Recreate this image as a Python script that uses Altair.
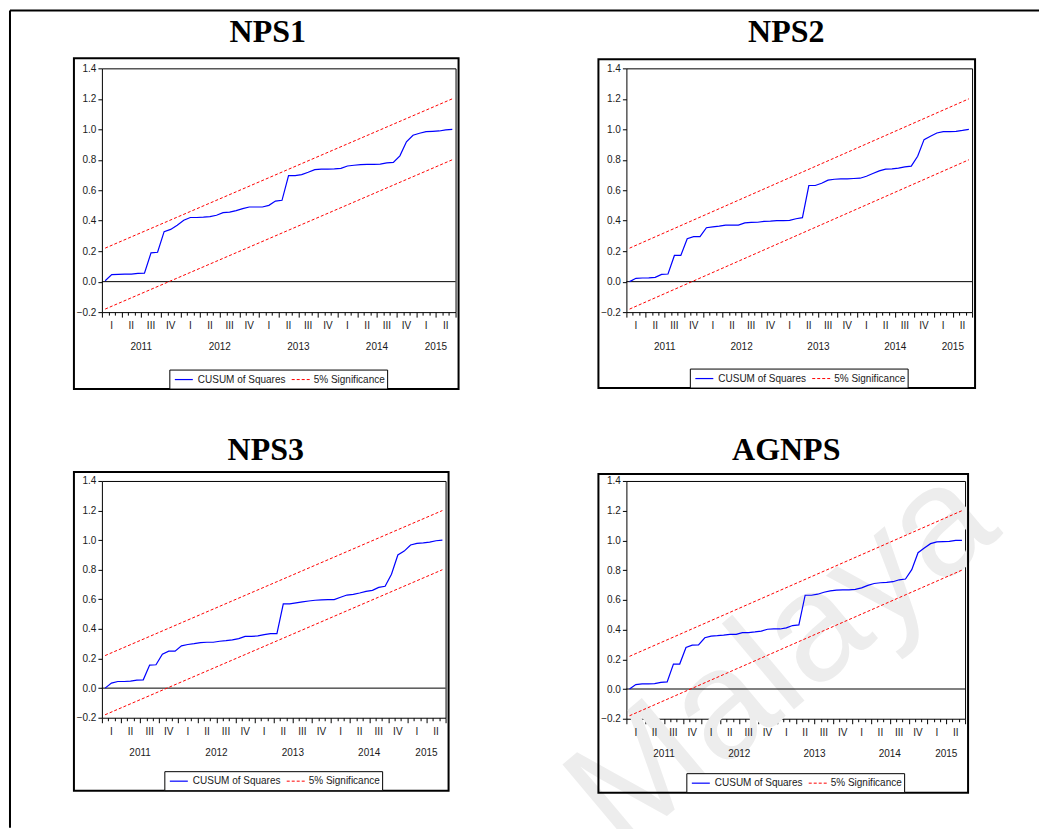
import altair as alt
import pandas as pd

# CUSUM of squares statistics, one value per month (Jan 2011 .. Jun 2015)
PANEL_NAMES = ["NPS1", "NPS2", "NPS3", "AGNPS"]

nps1 = [0.006, 0.046, 0.048, 0.050, 0.050, 0.054, 0.056, 0.189, 0.193, 0.328,
        0.343, 0.370, 0.403, 0.421, 0.421, 0.423, 0.427, 0.436, 0.453, 0.456,
        0.466, 0.479, 0.490, 0.490, 0.490, 0.501, 0.529, 0.534, 0.696, 0.696,
        0.703, 0.718, 0.735, 0.738, 0.738, 0.740, 0.744, 0.759, 0.764, 0.768,
        0.770, 0.770, 0.772, 0.779, 0.783, 0.826, 0.918, 0.961, 0.974, 0.985,
        0.987, 0.989, 0.996, 1.000]
nps2 = [0.000, 0.022, 0.024, 0.025, 0.028, 0.048, 0.050, 0.172, 0.172, 0.282,
        0.295, 0.295, 0.354, 0.360, 0.365, 0.371, 0.371, 0.371, 0.386, 0.389,
        0.390, 0.395, 0.397, 0.400, 0.400, 0.402, 0.413, 0.420, 0.631, 0.631,
        0.646, 0.666, 0.672, 0.675, 0.675, 0.677, 0.679, 0.692, 0.710, 0.727,
        0.738, 0.740, 0.745, 0.753, 0.758, 0.823, 0.932, 0.954, 0.976, 0.985,
        0.985, 0.987, 0.993, 1.000]
nps3 = [0.000, 0.034, 0.045, 0.045, 0.047, 0.054, 0.056, 0.156, 0.158, 0.230,
        0.250, 0.250, 0.286, 0.295, 0.301, 0.308, 0.310, 0.310, 0.317, 0.321,
        0.326, 0.335, 0.350, 0.350, 0.353, 0.362, 0.368, 0.368, 0.569, 0.569,
        0.576, 0.583, 0.589, 0.594, 0.596, 0.598, 0.598, 0.614, 0.629, 0.634,
        0.643, 0.654, 0.661, 0.681, 0.688, 0.770, 0.900, 0.926, 0.967, 0.978,
        0.982, 0.987, 0.996, 1.000]
agnps = [0.000, 0.030, 0.034, 0.034, 0.036, 0.045, 0.048, 0.168, 0.168, 0.279,
         0.295, 0.297, 0.345, 0.356, 0.359, 0.363, 0.368, 0.368, 0.379, 0.379,
         0.384, 0.390, 0.402, 0.404, 0.404, 0.411, 0.427, 0.431, 0.631, 0.631,
         0.638, 0.651, 0.660, 0.665, 0.667, 0.667, 0.670, 0.681, 0.697, 0.710,
         0.715, 0.717, 0.722, 0.735, 0.740, 0.803, 0.917, 0.949, 0.978, 0.990,
         0.992, 0.994, 1.000, 1.000]

# month positions on the time axis (centre of each month)
MONTH_POS = [m + 0.5 for m in range(54)]

# 5% significance bounds: straight lines between first and last observation
SIG_POS = [0.5, 53.5]
SIG_UPPER = [0.22, 1.20]
SIG_LOWER = [-0.18, 0.80]

# axis labelling
Y_TICKS = [-0.2, 0.0, 0.2, 0.4, 0.6, 0.8, 1.0, 1.2, 1.4]
MONTH_TICKS = list(range(55))
QUARTER_POS = [1.5 + 3 * q for q in range(18)]
QUARTER_LABELS = ["I", "II", "III", "IV"] * 4 + ["I", "II"]
YEAR_POS = [6, 18, 30, 42, 51]
YEAR_LABELS = ["2011", "2012", "2013", "2014", "2015"]

LEGEND_LABELS = ["CUSUM of Squares", "5% Significance"]

SANS = "Liberation Sans"
SERIF = "Liberation Serif"
BLUE = "#0000ff"
RED = "#ff0000"

x_scale = alt.Scale(domain=[0, 54], nice=False, zero=False)
y_scale = alt.Scale(domain=[-0.2, 1.4], nice=False, zero=False)

x_axis = alt.Axis(values=MONTH_TICKS, labels=False, domain=False, grid=False,
                  title=None, tickColor="black", tickWidth=1,
                  tickSize={"condition": {"test": "datum.value % 3 === 0", "value": 5}, "value": 3})
y_axis = alt.Axis(values=Y_TICKS, format=".1f", domain=False, grid=False, title=None,
                  tickColor="black", tickSize=4, tickWidth=1, labelPadding=2,
                  labelFont=SANS, labelFontSize=10, labelColor="#1a1a1a")


def X(field):
    return alt.X(field, type="quantitative", scale=x_scale, axis=x_axis)


def Y(field):
    return alt.Y(field, type="quantitative", scale=y_scale, axis=y_axis)


def one_row():
    return pd.DataFrame({"k": [0]})


def panel(name, values, W, H, frame_top, frame_bottom, title_x, title_y,
          watermark=None, page_frame=None):
    layers = []

    if watermark is not None:
        wx, wy = watermark
        layers.append(
            alt.Chart(pd.DataFrame({"txt": ["Malaya"]}))
            .mark_text(font=SANS, fontSize=155, angle=320,
                       color="#ededed", align="center", baseline="middle")
            .encode(x=alt.value(wx), y=alt.value(wy), text="txt:N")
        )

    # box around the panel
    layers.append(
        alt.Chart(one_row()).mark_rect(filled=False, stroke="black", strokeWidth=2)
        .encode(x=alt.value(-28), x2=alt.value(W + 3),
                y=alt.value(frame_top), y2=alt.value(H + frame_bottom))
    )

    # zero line
    layers.append(
        alt.Chart(pd.DataFrame({"v": [0.0]})).mark_rule(color="black", strokeWidth=1)
        .encode(y=Y("v"))
    )

    # significance bounds
    sig = pd.DataFrame({
        "t": SIG_POS + SIG_POS,
        "v": SIG_UPPER + SIG_LOWER,
        "bound": ["upper", "upper", "lower", "lower"],
    })
    layers.append(
        alt.Chart(sig).mark_line(color=RED, strokeWidth=1, strokeDash=[3, 2])
        .encode(x=X("t"), y=Y("v"), detail="bound:N")
    )

    # CUSUM of squares
    cus = pd.DataFrame({"t": MONTH_POS, "v": values})
    layers.append(
        alt.Chart(cus).mark_line(color=BLUE, strokeWidth=1.2)
        .encode(x=X("t"), y=Y("v"))
    )

    # quarter and year labels under the time axis
    qdf = pd.DataFrame({"t": QUARTER_POS, "lab": QUARTER_LABELS})
    layers.append(
        alt.Chart(qdf).mark_text(font=SANS, fontSize=10, color="#1a1a1a",
                                 align="center", baseline="middle")
        .encode(x=X("t"), y=alt.value(H + 14), text="lab:N")
    )
    ydf = pd.DataFrame({"t": YEAR_POS, "lab": YEAR_LABELS})
    layers.append(
        alt.Chart(ydf).mark_text(font=SANS, fontSize=10, color="#1a1a1a",
                                 align="center", baseline="middle")
        .encode(x=X("t"), y=alt.value(H + 35), text="lab:N")
    )

    # legend
    lx = W / 2 - 109
    ly2 = H + frame_bottom
    ly1 = ly2 - 19
    lyc = (ly1 + ly2) / 2
    layers.append(
        alt.Chart(one_row()).mark_rect(fill="white", stroke="black", strokeWidth=1)
        .encode(x=alt.value(lx), x2=alt.value(lx + 218),
                y=alt.value(ly1), y2=alt.value(ly2))
    )
    layers.append(
        alt.Chart(one_row()).mark_rule(color=BLUE, strokeWidth=1.2)
        .encode(x=alt.value(lx + 5), x2=alt.value(lx + 23), y=alt.value(lyc))
    )
    layers.append(
        alt.Chart(one_row()).mark_rule(color=RED, strokeWidth=1, strokeDash=[3, 2])
        .encode(x=alt.value(lx + 122), x2=alt.value(lx + 141), y=alt.value(lyc))
    )
    layers.append(
        alt.Chart(pd.DataFrame({"lab": [LEGEND_LABELS[0]]}))
        .mark_text(font=SANS, fontSize=10, color="#1a1a1a", align="left", baseline="middle")
        .encode(x=alt.value(lx + 28), y=alt.value(lyc), text="lab:N")
    )
    layers.append(
        alt.Chart(pd.DataFrame({"lab": [LEGEND_LABELS[1]]}))
        .mark_text(font=SANS, fontSize=10, color="#1a1a1a", align="left", baseline="middle")
        .encode(x=alt.value(lx + 144), y=alt.value(lyc), text="lab:N")
    )

    # panel heading
    layers.append(
        alt.Chart(pd.DataFrame({"lab": [name]}))
        .mark_text(font=SERIF, fontSize=32, fontWeight="bold", color="black",
                   align="center", baseline="alphabetic")
        .encode(x=alt.value(title_x), y=alt.value(title_y), text="lab:N")
    )

    if page_frame is not None:
        left, top, right, bottom = page_frame
        layers.append(
            alt.Chart(one_row()).mark_rule(color="black", strokeWidth=2)
            .encode(x=alt.value(left), x2=alt.value(right), y=alt.value(top))
        )
        layers.append(
            alt.Chart(one_row()).mark_rule(color="black", strokeWidth=2)
            .encode(x=alt.value(left), y=alt.value(top), y2=alt.value(bottom))
        )

    return alt.layer(*layers).properties(width=W, height=H)


p1 = panel(PANEL_NAMES[0], nps1, 354, 244, -10, 77, 166, -26,
           page_frame=(-92, -58, 938, 760))
p2 = panel(PANEL_NAMES[1], nps2, 346, 244, -9, 76, 160, -26)
p3 = panel(PANEL_NAMES[2], nps3, 344, 237, -9, 73, 164, -21)
p4 = panel(PANEL_NAMES[3], agnps, 339, 238, -7, 74, 160, -21, watermark=(156, 177))

chart = (
    alt.concat(p1, p2, p3, p4, columns=2, spacing={"row": 169, "column": 171},
               bounds="flush")
    .properties(padding={"left": 8, "top": 8, "right": 0, "bottom": 0})
    .configure_view(stroke="black", strokeWidth=1)
)

chart.save("out.html", embed_options={"renderer": "svg", "actions": False})
